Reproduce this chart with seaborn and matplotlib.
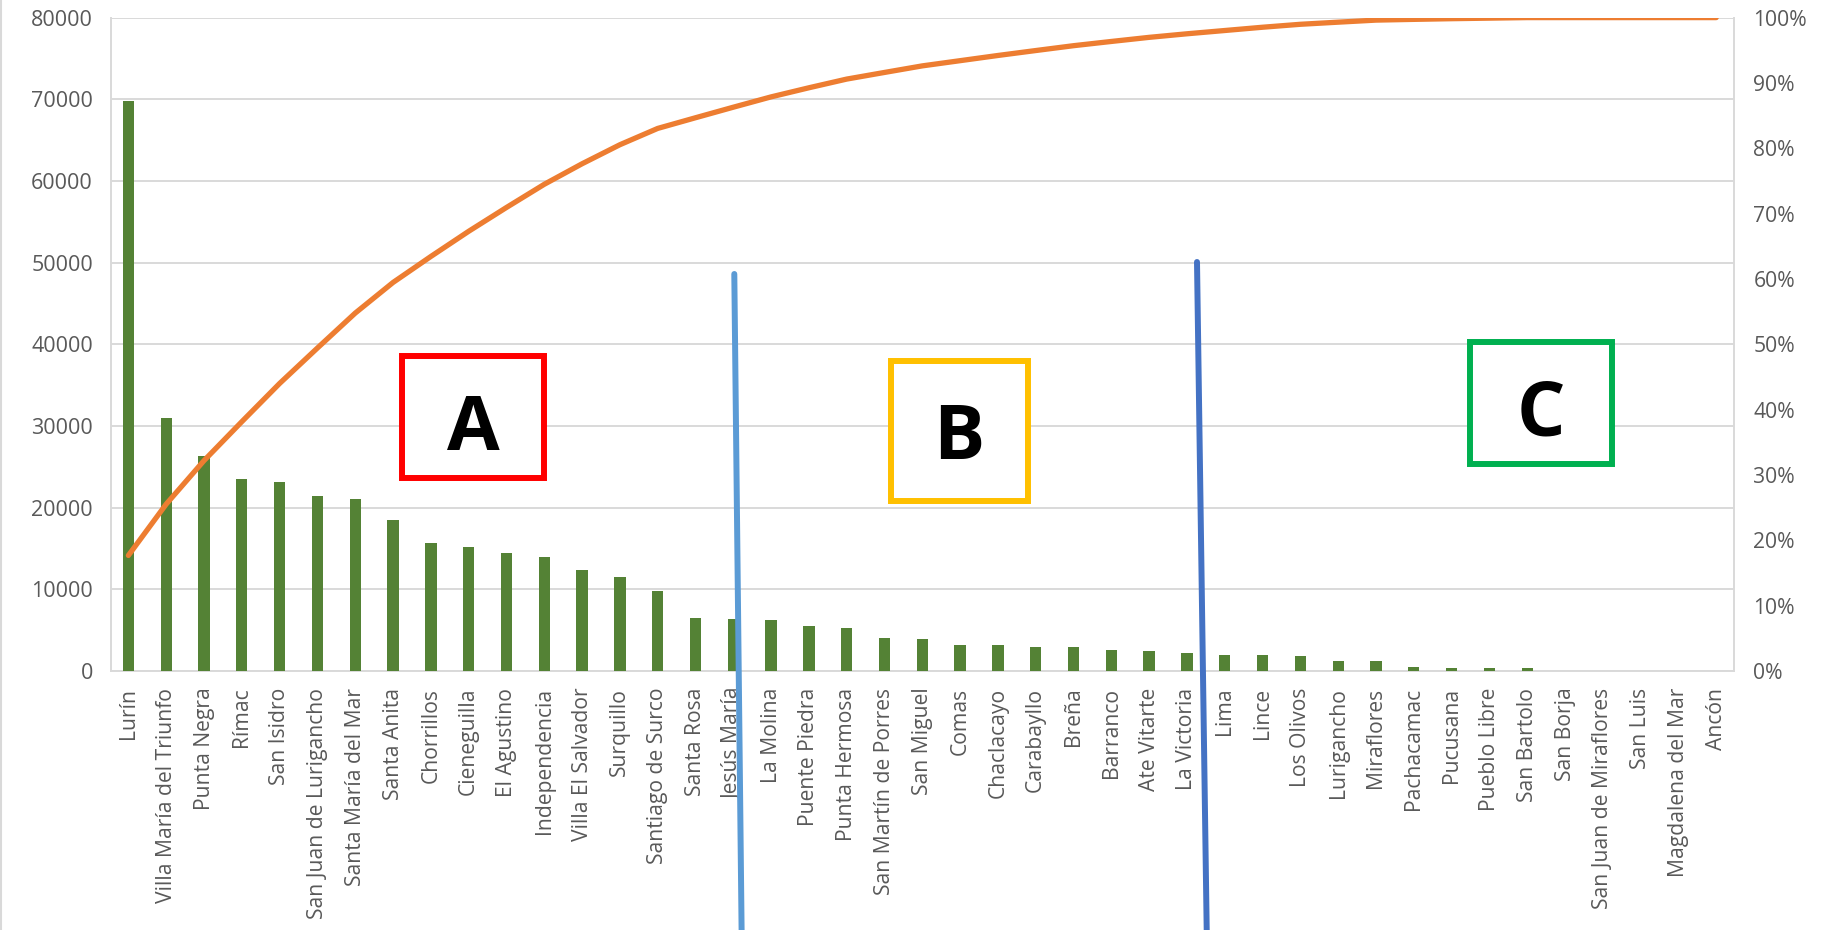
import numpy as np
import matplotlib
matplotlib.use("Agg")
import matplotlib.pyplot as plt
from matplotlib.patches import Rectangle
from matplotlib.lines import Line2D
from matplotlib.ticker import FuncFormatter
import seaborn as sns

# Residuos por distrito (ordenados de mayor a menor)
districts = [
    "Lurín", "Villa María del Triunfo", "Punta Negra", "Rímac", "San Isidro",
    "San Juan de Lurigancho", "Santa María del Mar", "Santa Anita", "Chorrillos",
    "Cieneguilla", "El Agustino", "Independencia", "Villa El Salvador", "Surquillo",
    "Santiago de Surco", "Santa Rosa", "Jesús María", "La Molina", "Puente Piedra",
    "Punta Hermosa", "San Martín de Porres", "San Miguel", "Comas", "Chaclacayo",
    "Carabayllo", "Breña", "Barranco", "Ate Vitarte", "La Victoria", "Lima", "Lince",
    "Los Olivos", "Lurigancho", "Miraflores", "Pachacamac", "Pucusana",
    "Pueblo Libre", "San Bartolo", "San Borja", "San Juan de Miraflores",
    "San Luis", "Magdalena del Mar", "Ancón",
]
values = [
    69800, 31000, 26300, 23500, 23100,
    21400, 21100, 18500, 15700,
    15200, 14400, 14000, 12400, 11500,
    9850, 6450, 6370, 6240, 5500,
    5250, 4010, 3970, 3140, 3140,
    2980, 2930, 2560, 2480, 2150, 1980, 1980,
    1780, 1280, 1240, 450, 410,
    330, 330, 0, 0,
    0, 0, 0,
]
left_ticks = [0, 10000, 20000, 30000, 40000, 50000, 60000, 70000, 80000]
right_ticks = [0, 0.1, 0.2, 0.3, 0.4, 0.5, 0.6, 0.7, 0.8, 0.9, 1.0]

vals = np.array(values, dtype=float)
cum_share = np.cumsum(vals) / vals.sum()
pos = np.arange(len(districts))

W, H = 1837, 930
BAR = "#548235"
LINE = "#ED7D31"
GRID = "#D9D9D9"
TXT = "#595959"

sns.set_style("white")
plt.rcParams["font.family"] = ["Open Sans", "DejaVu Sans"]

fig = plt.figure(figsize=(W / 100, H / 100), dpi=100)
fig.patch.set_facecolor("white")


def fx(x):
    return x / W


def fy(y):
    return 1 - y / H


ax = fig.add_axes([fx(111), fy(671), fx(1734) - fx(111), fy(17.6) - fy(671)])
sns.barplot(x=districts, y=vals, order=districts, color=BAR, width=0.3,
            saturation=1, linewidth=0, ax=ax, zorder=3)
ax.set_xlim(-0.46, len(districts) - 1 + 0.47)
ax.set_ylim(0, 80000)
ax.set_yticks(left_ticks)
ax.yaxis.grid(True, color=GRID, linewidth=1.4, zorder=0)
ax.set_axisbelow(True)
ax.set_xticks(pos)
ax.set_xticklabels(districts, rotation=90, ha="center", va="top")
ax.tick_params(axis="x", length=0, pad=12, labelsize=15.2, labelcolor=TXT)
ax.tick_params(axis="y", length=0, pad=13, labelsize=15.5, labelcolor=TXT)
ax.set_xlabel("")
ax.set_ylabel("")
for side in ["left", "right", "bottom"]:
    ax.spines[side].set_color(GRID)
    ax.spines[side].set_linewidth(1.4)
ax.spines["top"].set_visible(False)

ax2 = ax.twinx()
sns.lineplot(x=pos, y=cum_share, color=LINE, linewidth=3.8, ax=ax2,
             solid_capstyle="round", zorder=4)
ax2.set_ylim(0, 1)
ax2.set_yticks(right_ticks)
ax2.yaxis.set_major_formatter(FuncFormatter(lambda v, _: f"{v * 100:.0f}%"))
ax2.tick_params(axis="y", length=0, pad=14, labelsize=15.2, labelcolor=TXT)
ax2.set_ylabel("")
for side in ["left", "right", "bottom", "top"]:
    ax2.spines[side].set_visible(False)
ax2.set_xlim(ax.get_xlim())

# Borde izquierdo del gráfico
fig.add_artist(Line2D([fx(1), fx(1)], [0, 1], color=GRID, linewidth=1.5,
                      transform=fig.transFigure))

# Cortes entre zonas A, B y C
fig.add_artist(Line2D([fx(734.3), fx(741.6)], [fy(274), fy(930)],
                      color="#5B9BD5", linewidth=4.3, transform=fig.transFigure,
                      zorder=6))
fig.add_artist(Line2D([fx(1197), fx(1206.7)], [fy(262), fy(930)],
                      color="#4472C4", linewidth=4.3, transform=fig.transFigure,
                      zorder=6))

# Recuadros de clasificación
boxes = [
    ("A", "#FF0000", (402, 355.7, 544, 477.7), (473, 450)),
    ("B", "#FFC000", (891, 361.5, 1028, 500.8), (959, 459)),
    ("C", "#00B050", (1470, 342, 1612, 464.3), (1541, 435)),
]
for letter, col, (x0, y0, x1, y1), (tx, ty) in boxes:
    fig.add_artist(Rectangle((fx(x0), fy(y1)), fx(x1) - fx(x0), fy(y0) - fy(y1),
                             transform=fig.transFigure, facecolor="white",
                             edgecolor=col, linewidth=4.3, zorder=7))
    fig.text(fx(tx), fy(ty), letter, ha="center", va="baseline", fontsize=55,
             fontweight="bold", color="black", zorder=8)

fig.savefig("out.png", dpi=100, facecolor="white")
